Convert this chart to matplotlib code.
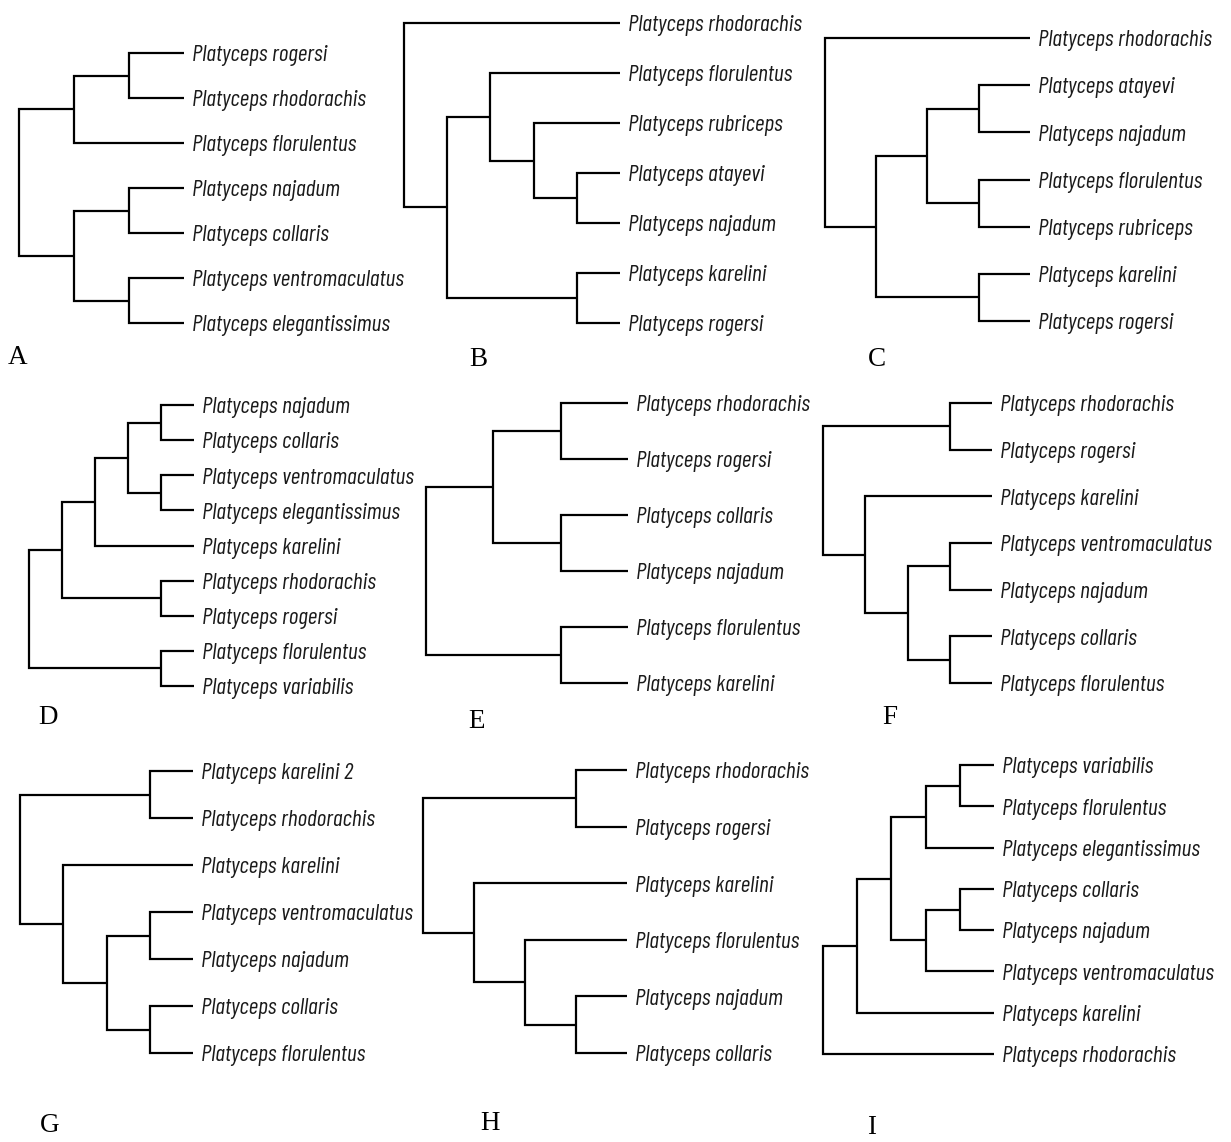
import matplotlib
matplotlib.use("Agg")
from matplotlib import pyplot as plt

# %% trees (topology only)
tree_a = ((("Platyceps rogersi", "Platyceps rhodorachis"), "Platyceps florulentus"),
          (("Platyceps najadum", "Platyceps collaris"),
           ("Platyceps ventromaculatus", "Platyceps elegantissimus")))
tree_b = ("Platyceps rhodorachis",
          (("Platyceps florulentus",
            ("Platyceps rubriceps", ("Platyceps atayevi", "Platyceps najadum"))),
           ("Platyceps karelini", "Platyceps rogersi")))
tree_c = ("Platyceps rhodorachis",
          ((("Platyceps atayevi", "Platyceps najadum"),
            ("Platyceps florulentus", "Platyceps rubriceps")),
           ("Platyceps karelini", "Platyceps rogersi")))
tree_d = ((((("Platyceps najadum", "Platyceps collaris"),
             ("Platyceps ventromaculatus", "Platyceps elegantissimus")),
            "Platyceps karelini"),
           ("Platyceps rhodorachis", "Platyceps rogersi")),
          ("Platyceps florulentus", "Platyceps variabilis"))
tree_e = ((("Platyceps rhodorachis", "Platyceps rogersi"),
           ("Platyceps collaris", "Platyceps najadum")),
          ("Platyceps florulentus", "Platyceps karelini"))
tree_f = (("Platyceps rhodorachis", "Platyceps rogersi"),
          ("Platyceps karelini",
           (("Platyceps ventromaculatus", "Platyceps najadum"),
            ("Platyceps collaris", "Platyceps florulentus"))))
tree_g = (("Platyceps karelini 2", "Platyceps rhodorachis"),
          ("Platyceps karelini",
           (("Platyceps ventromaculatus", "Platyceps najadum"),
            ("Platyceps collaris", "Platyceps florulentus"))))
tree_h = (("Platyceps rhodorachis", "Platyceps rogersi"),
          ("Platyceps karelini",
           ("Platyceps florulentus", ("Platyceps najadum", "Platyceps collaris"))))
tree_i = ((((("Platyceps variabilis", "Platyceps florulentus"), "Platyceps elegantissimus"),
            (("Platyceps collaris", "Platyceps najadum"), "Platyceps ventromaculatus")),
           "Platyceps karelini"),
          "Platyceps rhodorachis")

trees = [tree_a, tree_b, tree_c, tree_d, tree_e, tree_f, tree_g, tree_h, tree_i]
panel_names = ["A", "B", "C", "D", "E", "F", "G", "H", "I"]

# layout in pixels: root x, tip x, first tip y, last tip y, letter x, letter y
layout = [
    (19, 184, 53, 323, 18, 357),
    (404, 620, 23, 323, 478, 360),
    (825, 1030, 38, 321, 877, 360),
    (29, 194, 405, 686, 48, 717),
    (426, 628, 403, 683, 477, 722),
    (823, 992, 403, 683, 890, 718),
    (20, 193, 771, 1053, 50, 1126),
    (423, 627, 770, 1053, 490, 1124),
    (823, 994, 765, 1054, 872, 1127),
]

W, H = 1231, 1142
tip_font = ["Barlow Condensed", "Archivo Narrow", "DejaVu Sans"]


def height(node):
    if isinstance(node, str):
        return 0
    return 1 + max(height(c) for c in node)


def count_tips(node):
    if isinstance(node, str):
        return 1
    return sum(count_tips(c) for c in node)


def draw(ax, node, tips):
    # returns (x, y) of node; x = -height, tips at x = 0
    if isinstance(node, str):
        y = len(tips)
        tips.append(node)
        ax.annotate(node, (0, y), xytext=(5.5, -6), textcoords="offset points",
                    ha="left", va="baseline", fontsize=17, style="italic",
                    family=tip_font, color="#1a1a1a", annotation_clip=False)
        return 0, y
    pts = [draw(ax, c, tips) for c in node]
    x = -height(node)
    y = (pts[0][1] + pts[-1][1]) / 2
    ax.plot([pts[0][0], x, x, pts[-1][0]], [pts[0][1], pts[0][1], pts[-1][1], pts[-1][1]],
            color="black", lw=1.6, solid_joinstyle="miter", solid_capstyle="butt",
            clip_on=False)
    for cx, cy in pts[1:-1]:
        ax.plot([x, cx], [cy, cy], color="black", lw=1.6, clip_on=False)
    return x, y


fig = plt.figure(figsize=(W / 100, H / 100), dpi=100)

for tree, name, (x0, x1, y0, y1, lx, ly) in zip(trees, panel_names, layout):
    ax = fig.add_axes([x0 / W, 1 - y1 / H, (x1 - x0) / W, (y1 - y0) / H])
    ax.axis("off")
    draw(ax, tree, [])
    n = count_tips(tree)
    ax.set_xlim(-height(tree), 0)
    ax.set_ylim(n - 1, 0)
    fig.text(lx / W, 1 - ly / H, name, ha="center", va="center",
             fontsize=19.5, family="Liberation Serif")

plt.savefig("out.png", dpi=100)
